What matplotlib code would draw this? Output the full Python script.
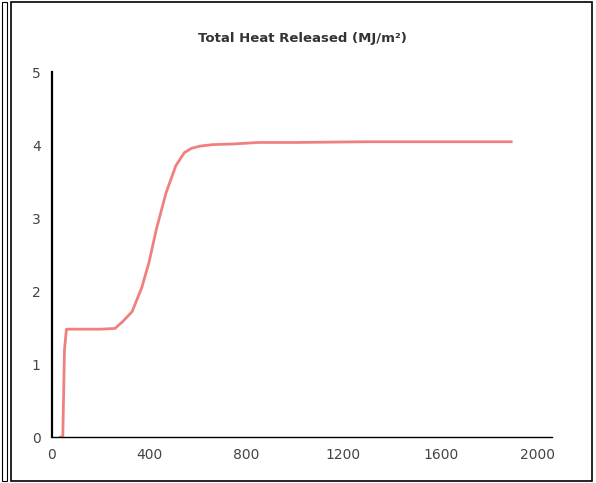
import matplotlib
matplotlib.use("Agg")
import matplotlib.pyplot as plt
from matplotlib.patches import Rectangle

# Total heat released curve (time s, MJ/m2)
time_s = [35, 45, 52, 60, 100, 200, 260, 290, 330, 370, 400, 430, 470, 510, 545, 575,
          610, 660, 750, 850, 1000, 1300, 1600, 1890]
thr = [0.0, 0.0, 1.2, 1.48, 1.48, 1.48, 1.49, 1.58, 1.72, 2.05, 2.4, 2.85, 3.35, 3.72,
       3.9, 3.96, 3.99, 4.01, 4.02, 4.04, 4.04, 4.05, 4.05, 4.05]

xticks = [0, 400, 800, 1200, 1600, 2000]
yticks = [0, 1, 2, 3, 4, 5]

fig = plt.figure(figsize=(5.96, 4.83), dpi=100)
ax = fig.add_axes([0.087, 0.095, 0.84, 0.755])
ax.plot(time_s, thr, color="#f08080", linewidth=2)
ax.set_xlim(0, 2060)
ax.set_ylim(0, 5)
ax.set_xticks(xticks)
ax.set_yticks(yticks)
ax.tick_params(length=0, labelsize=10, colors="#444444", pad=8)
for s in ["top", "right"]:
    ax.spines[s].set_visible(False)
ax.spines["left"].set_linewidth(1.6)
ax.spines["bottom"].set_linewidth(1.0)
ax.set_title("Total Heat Released (MJ/m²)", fontsize=9.5, fontweight="bold",
             color="#333333", pad=22)

# outer frame
fig.patches.append(Rectangle((0.018, 0.005), 0.975, 0.99, transform=fig.transFigure,
                             fill=False, edgecolor="black", linewidth=1.2))
fig.patches.append(Rectangle((0.003, 0.005), 0.008, 0.99, transform=fig.transFigure,
                             fill=False, edgecolor="black", linewidth=0.8))
fig.savefig("out.png", dpi=100)
